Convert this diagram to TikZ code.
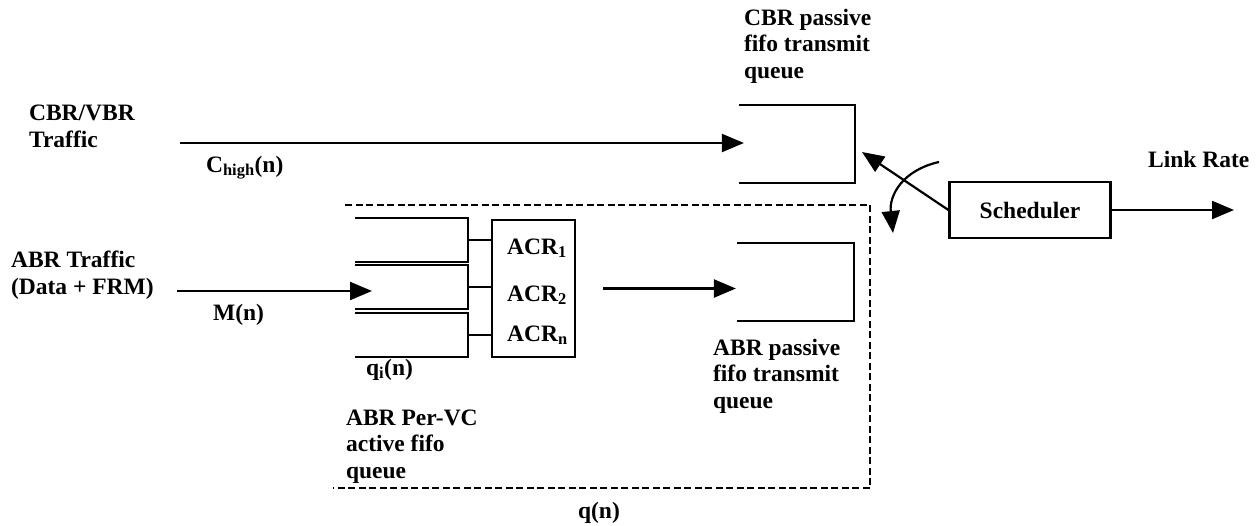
\documentclass[tikz,border=0pt]{standalone}
\usepackage{fontspec}
\setmainfont{Liberation Serif}
\usetikzlibrary{arrows.meta,positioning}
\begin{document}
\begin{tikzpicture}[
  x=1pt,y=-1pt,
  line width=2.2pt,
  every node/.style={font=\fontsize{23.5}{26.5}\selectfont\bfseries,inner sep=0pt},
  lbl/.style={anchor=base west,align=left},
  queue/.style={minimum width=111pt,minimum height=42pt},
  bin/.style={minimum width=114pt,minimum height=76pt},
  flow/.style={-{Triangle[length=22pt,width=18pt]}},
  border/.style={dash pattern=on 7pt off 3.5pt}
]
  \useasboundingbox (0,0) rectangle (1258,525);

  % inputs (multi-line labels sit on their last baseline)
  \node[lbl] (cbrvbr) at (28,147) {CBR/VBR\\Traffic};
  \node[lbl] (abrtr) at (10,294) {ABR Traffic\\(Data + FRM)};
  \node[lbl] (chigh) at (205,172) {C\textsubscript{high}(n)};
  \node[lbl] (mn) at (212,320) {M(n)};

  % per-VC queues and rates
  \node[queue] (q1) at (411.5,240) {};
  \node[queue] (q2) at (411.5,287) {};
  \node[queue] (q3) at (411.5,335) {};
  \foreach \q in {q1,q2,q3}
    \draw (\q.north west) -- (\q.north east) -- (\q.south east) -- (\q.south west);
  \node[draw,minimum width=83pt,minimum height=137pt] (acr) at (533.5,288.5) {};
  \node[lbl] (acr1) at (506,254) {ACR\textsubscript{1}};
  \node[lbl] (acr2) at (506,301) {ACR\textsubscript{2}};
  \node[lbl] (acrn) at (506,341) {ACR\textsubscript{n}};
  \foreach \q in {q1,q2,q3}
    \draw (\q.east) -- (\q.east -| acr.west);
  \node[lbl] (qi) at (365,375) {q\textsubscript{i}(n)};
  \node[lbl] (pervc) at (345,478) {ABR Per-VC\\active fifo\\queue};

  % passive queues
  \node[bin] (cbrq) at (797,144) {};
  \node[bin,minimum width=115pt] (abrq) at (795.5,282) {};
  \foreach \q in {cbrq,abrq}
    \draw (\q.north west) -- (\q.north east) -- (\q.south east) -- (\q.south west);
  \node[lbl] (cbrpass) at (743,78) {CBR passive\\fifo transmit\\queue};
  \node[lbl] (abrpass) at (712,408) {ABR passive\\fifo transmit\\queue};

  % scheduler
  \node[draw,minimum width=161pt,minimum height=56pt] (sched) at (1030,210) {Scheduler};
  \node[lbl] (link) at (1147,167) {Link Rate};

  \coordinate (cbrin) at (180,143);
  \coordinate (abrin) at (177,291);
  \coordinate (mtip) at (372,291);
  \coordinate (linkout) at (1234,210);
  \coordinate (swtip) at (862,152);
  \coordinate (swa) at (939,162);
  \coordinate (swb) at (893,233);

  \draw[flow] (cbrin) -- ([xshift=5pt]cbrq.west |- cbrin);
  \draw[flow] (abrin) -- (mtip);
  \draw[flow] ([xshift=27pt]acr.east) -- ([xshift=-1pt]acr.east -| abrq.west);
  \draw[flow] (sched.east) -- (linkout);
  \draw[flow] (sched.west) -- (swtip);
  \draw[flow] (swa) .. controls (903,170) and (889,195) .. (swb);

  % total ABR queue
  \draw[border] (345,205) -- (870,205) -- (870,488) -- (333,488);
  \node[lbl] (qn) at (577,518) {q(n)};
\end{tikzpicture}
\end{document}
